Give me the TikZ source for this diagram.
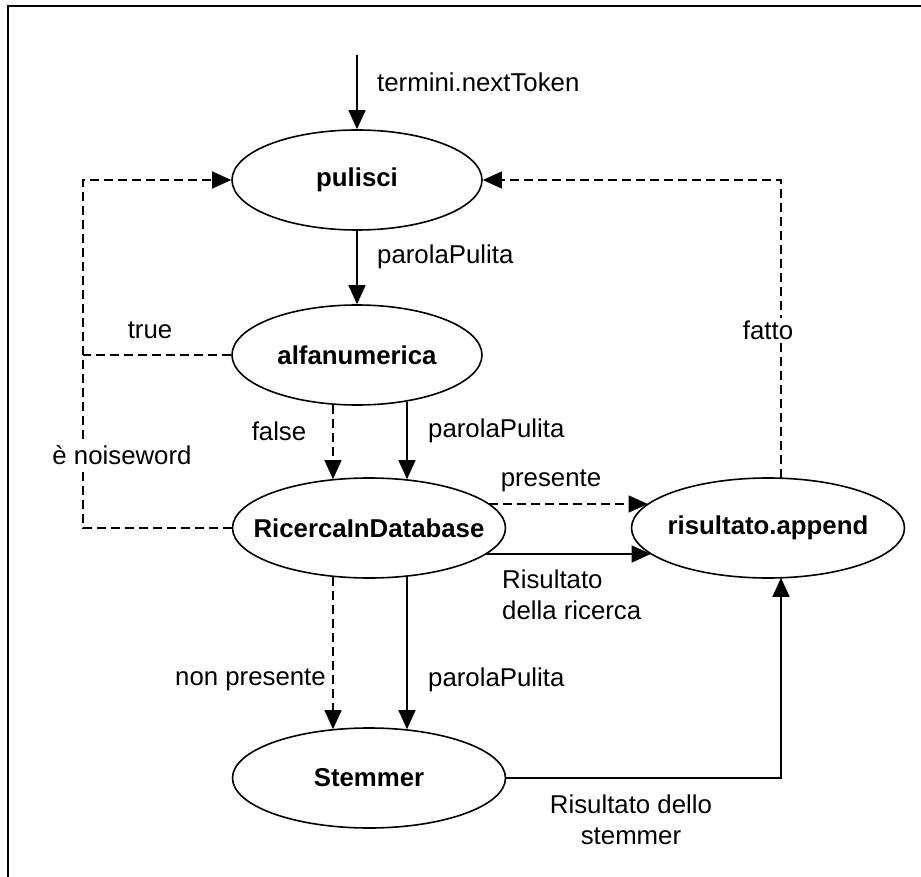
\documentclass[tikz,border=0pt]{standalone}
\usepackage{fontspec}
\setmainfont{Liberation Sans}
\usetikzlibrary{arrows.meta,shapes.geometric}
\newcommand{\zbox}[1]{\makebox[0pt][c]{#1}}
\begin{document}
\begin{tikzpicture}[x=1pt,y=-1pt,
  every node/.style={font=\fontsize{25.8}{31}\selectfont},
  state/.style={ellipse,draw,line width=1.6pt,inner sep=0pt,minimum height=100pt,font=\fontsize{25.8}{31}\selectfont\bfseries},
  conn/.style={line width=1.3pt},
  arr/.style={conn,-{Triangle[length=19pt,width=17pt]}},
  dsh/.style={dash pattern=on 9pt off 5pt},
  lbl/.style={inner sep=1pt},
  gaplbl/.style={fill=white,inner sep=3pt}]
\useasboundingbox (0,0) rectangle (921,877);
\draw[line width=2pt] (8,877) -- (8,6) -- (921,6);

\node[state,minimum width=250pt] (pul) at (357,180) {\zbox{pulisci}};
\node[state,minimum width=250pt] (alf) at (357,355) {\zbox{alfanumerica}};
\node[state,minimum width=273pt] (ric) at (369,528) {\zbox{RicercaInDatabase}};
\node[state,minimum width=273pt] (ris) at (768,528) {\zbox{risultato.append}};
\node[state,minimum width=273pt] (stem) at (369,778) {\zbox{Stemmer}};

\coordinate (in) at (357,55);
\coordinate (lb) at (83,528);
\coordinate (la) at (83,355);

% input
\draw[arr] (in) -- (pul.north);
\node[lbl,anchor=west] (lin) at (376,82) {termini.nextToken};

% pulisci -> alfanumerica
\draw[arr] (pul.south) -- (alf.north);
\node[lbl,anchor=west] (lpp1) at (376,257) {parolaPulita};

% left dashed feedback
\draw[conn,dsh] (alf.west) -- (la);
\draw[arr,dsh] (ric.west) -- (lb) |- (pul.west);
\node[lbl] (ltrue) at (150,330) {true};
\node[gaplbl] (lnoise) at (122,455) {è noiseword};

% right dashed feedback
\draw[arr,dsh] ([xshift=13pt,yshift=-1pt]ris.north) |- (pul.east);
\node[gaplbl] (lfatto) at (768,330) {fatto};

% alfanumerica -> ricerca
\draw[arr,dsh] ([xshift=-24pt,yshift=1pt]alf.south) -- ([xshift=-36pt,yshift=-2pt]ric.north);
\draw[arr] ([xshift=50pt,yshift=4pt]alf.south) -- ([xshift=38pt,yshift=-2pt]ric.north);
\node[lbl] (lfalse) at (279,431) {false};
\node[lbl,anchor=west] (lpp2) at (427,431) {parolaPulita};

% ricerca -> risultato
\draw[arr,dsh] ([xshift=-17pt,yshift=24pt]ric.east) -- ([xshift=17pt,yshift=24pt]ris.west);
\draw[arr] ([xshift=-20pt,yshift=-26pt]ric.east) -- ([xshift=20pt,yshift=-26pt]ris.west);
\node[lbl] (lpres) at (551,481) {presente};
\node[lbl,anchor=west,align=left] (lrr) at (501,594.5) {Risultato\\della ricerca};

% ricerca -> stemmer
\draw[arr,dsh] ([xshift=-36pt,yshift=2pt]ric.south) -- ([xshift=-36pt,yshift=-2pt]stem.north);
\draw[arr] ([xshift=38pt,yshift=2pt]ric.south) -- ([xshift=38pt,yshift=-2pt]stem.north);
\node[lbl,anchor=east] (lnp) at (327,680) {non presente};
\node[lbl,anchor=west] (lpp3) at (427,680) {parolaPulita};

% stemmer -> risultato
\draw[arr] (stem.east) -| ([xshift=13pt,yshift=1pt]ris.south);
\node[lbl,align=center] (lrs) at (631,820) {Risultato dello\\stemmer};
\end{tikzpicture}
\end{document}
